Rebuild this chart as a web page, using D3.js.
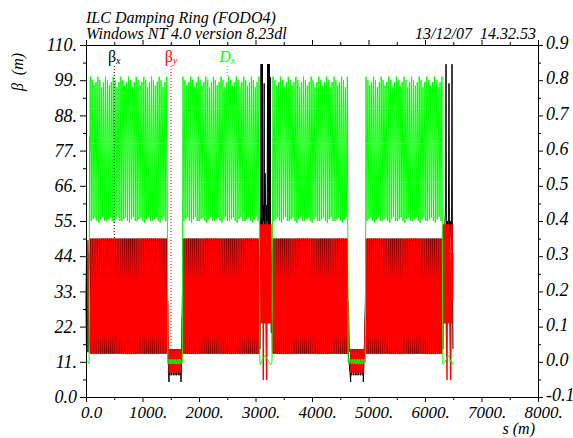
<!DOCTYPE html>
<html><head><meta charset="utf-8">
<script src="https://cdn.jsdelivr.net/npm/d3@7"></script>
<style>
body{margin:0;background:#fff}
svg{display:block}
text{font-family:"Liberation Serif","Times New Roman",serif;font-style:italic;fill:#000}
</style></head><body>
<svg id="c" width="573" height="438"></svg>
<script>
// ---------- tick labels ----------
const xTickValues = [0,1000,2000,3000,4000,5000,6000,7000,8000];
const xTickLabels = ["0.0","1000.","2000.","3000.","4000.","5000.","6000.","7000.","8000."];
const bTickValues = [0,11,22,33,44,55,66,77,88,99,110];
const bTickLabels = ["0.0","11.","22.","33.","44.","55.","66.","77.","88.","99.","110."];
const dTickValues = [-0.1,0,0.1,0.2,0.3,0.4,0.5,0.6,0.7,0.8,0.9];
const dTickLabels = ["-0.1","0.0","0.1","0.2","0.3","0.4","0.5","0.6","0.7","0.8","0.9"];

// ---------- arcs: repeated FODO cell ----------
const arcStart = [75, 1717, 3310, 4956];
const arcEnd   = [1430, 3062, 4625, 6300];
const arcCells = [40, 40, 39, 40];
const arcCellFrac  = [0, 0.125, 0.25, 0.375, 0.5, 0.625, 0.75, 0.875];
const arcCellBetaX = [49.5, 37, 27, 19, 13.5, 19, 27, 37];
const arcCellBetaY = [13.5, 19, 27, 37, 49.5, 37, 27, 19];
const arcCellDx    = [0.81, 0.72, 0.62, 0.51, 0.40, 0.51, 0.62, 0.72];
// cell-to-cell variation of the dispersion peaks / troughs seen along the arcs
const arcDxPeaks   = [0.81, 0.80, 0.785, 0.795, 0.81, 0.80, 0.78, 0.795];
const arcDxTroughs = [0.40, 0.405, 0.41, 0.40, 0.395, 0.405, 0.412, 0.40];

// ---------- straight sections: repeated cell ----------
const strStart = [1472, 4688];
const strEnd   = [1678, 4905];
const strCells = [7, 7];
const strCellFrac  = [0, 0.25, 0.5, 0.75];
const strCellBetaX = [15, 10, 6.8, 10];
const strCellBetaY = [7.5, 10.5, 15, 10.5];
const strCellDx    = [0.007, 0, -0.006, 0];

// ---------- explicit points (s, betaX, betaY, Dx) ----------
const entryS  = [0, 12, 35, 55, 62, 68];
const entryBx = [30, 49, 14, 45, 40, 45];
const entryBy = [30, 14, 49, 18, 20, 16];
const entryDx = [0, 0, 0, -0.005, 0.64, 0.60];

const m1S  = [1440, 1448, 1458, 1469];
const m1Bx = [25, 14, 10, 4.7];
const m1By = [14, 30, 14, 15];
const m1Dx = [0.40, 0, -0.005, 0];
const m2S  = [1681, 1695, 1705, 1712];
const m2Bx = [4.7, 14, 30, 40];
const m2By = [15, 12, 25, 15];
const m2Dx = [0, -0.005, 0, 0.5];

const m3S  = [4633, 4641, 4660, 4685];
const m3Bx = [25, 14, 10, 4.7];
const m3By = [14, 30, 14, 15];
const m3Dx = [0.40, 0, -0.005, 0];
const m4S  = [4908, 4925, 4945, 4951];
const m4Bx = [4.7, 14, 30, 40];
const m4By = [15, 12, 25, 15];
const m4Dx = [0, -0.005, 0, 0.5];

const inj1S  = [3070,3078,3090,3098,3104,3110,3116,3122,3130,3138,3146,3154,3162,3170,3178,3186,3198,3206,3214,3222,3230,3238,3246,3254,3262,3270,3280,3292,3300];
const inj1Bx = [25,15,40,104,40,104,45,104,50,60,55,98,50,70,60,50,60,55,104,45,104,40,104,40,100,30,20,30,45];
const inj1By = [20,45,54,23,54,23,54,30,54,5.3,54,23,54,23,54,23,5.3,54,23,54,23,54,23,54,23,54,40,25,15];
const inj1Dx = [0.30,-0.005,-0.008,-0.005,0,0.002,0.004,0.006,0.008,0.010,0.012,0.014,0.016,0.018,0.016,0.014,0.010,0.008,0.006,0.004,0.002,0,-0.003,-0.005,-0.007,-0.008,-0.005,0,0.40];

const inj2S  = [6308,6315,6322,6330,6338,6346,6354,6366,6372,6378,6390,6398,6406,6414,6425,6432,6440,6455,6463,6471,6478,6486,6495];
const inj2Bx = [25,15,30,40,45,50,55,60,104,55,50,55,50,55,98,55,50,55,50,55,104,40,15];
const inj2By = [20,45,54,23,54,23,54,23,54,23,5.3,54,23,54,23,54,23,5.3,54,23,54,30,45];
const inj2Dx = [0.30,-0.005,-0.008,-0.006,-0.004,-0.002,0,0.004,0.006,0.008,0.012,0.014,0.016,0.018,0.015,0.012,0.008,0.002,-0.002,-0.005,-0.008,-0.005,0];

// ---------- legend ----------
const legendS = [500, 1505, 2500];
const legendTarget = [49.5, 15.2, 0.81];

// ---------- build lattice ----------
function explicit(S, Bx, By, D){ return S.map((s,i)=>({s, bx:Bx[i], by:By[i], d:D[i]})); }
function periodic(start, end, n, F, Bx, By, D, peaks, troughs){
  const L = (end-start)/n, out=[];
  for (let i=0;i<n;i++) for (let j=0;j<F.length;j++){
    let d = D[j];
    if (peaks && j===0) d = peaks[i % peaks.length];
    if (troughs && j===F.length/2) d = troughs[i % troughs.length];
    out.push({s:start+(i+F[j])*L, bx:Bx[j], by:By[j], d});
  }
  out.push({s:end, bx:Bx[0], by:By[0], d:D[0]});
  return out;
}
const arc = k => periodic(arcStart[k], arcEnd[k], arcCells[k], arcCellFrac, arcCellBetaX, arcCellBetaY, arcCellDx, arcDxPeaks, arcDxTroughs);
const str = k => periodic(strStart[k], strEnd[k], strCells[k], strCellFrac, strCellBetaX, strCellBetaY, strCellDx);
const lattice = [].concat(
  explicit(entryS, entryBx, entryBy, entryDx), arc(0),
  explicit(m1S, m1Bx, m1By, m1Dx), str(0), explicit(m2S, m2Bx, m2By, m2Dx),
  arc(1), explicit(inj1S, inj1Bx, inj1By, inj1Dx), arc(2),
  explicit(m3S, m3Bx, m3By, m3Dx), str(1), explicit(m4S, m4Bx, m4By, m4Dx),
  arc(3), explicit(inj2S, inj2Bx, inj2By, inj2Dx)
);

// ---------- scales ----------
const svg = d3.select("#c");
const x  = d3.scaleLinear().domain([0,8000]).range([86,538]);
const yB = d3.scaleLinear().domain([0,110]).range([397,45]);
const yD = d3.scaleLinear().domain([-0.1,0.9]).range([397,45]);

// ---------- curves ----------
const g = svg.append("g");
g.append("path").datum(lattice).attr("fill","none").attr("stroke","#000").attr("stroke-width",1)
  .attr("d", d3.line().x(p=>x(p.s)).y(p=>yB(p.bx)));
g.append("path").datum(lattice).attr("fill","none").attr("stroke","#ff0000").attr("stroke-width",1.4)
  .attr("d", d3.line().x(p=>x(p.s)).y(p=>yB(p.by)));
g.append("path").datum(lattice).attr("fill","none").attr("stroke","#00ff00").attr("stroke-width",1)
  .attr("d", d3.line().x(p=>x(p.s)).y(p=>yD(p.d)));

// ---------- axes ----------
function styleAxis(sel, size){ sel.selectAll("path,line").attr("stroke","#000"); sel.selectAll("text").style("font-size",size||"18px").attr("fill","#000"); }
const xMinor = d3.range(500,8000,1000);
const bMinor = d3.range(5.5,110,11);
const dMinor = d3.range(-0.05,0.9,0.1);

svg.append("g").attr("transform","translate(0,397)")
  .call(d3.axisBottom(x).tickValues(xTickValues).tickSize(5).tickSizeOuter(0).tickPadding(4).tickFormat((d,i)=>xTickLabels[i]))
  .call(styleAxis, "17px").call(a=>a.selectAll("text").attr("dx",5));
svg.append("g").attr("transform","translate(0,397)")
  .call(d3.axisBottom(x).tickValues(xMinor).tickSize(3).tickSizeOuter(0).tickFormat("")).call(styleAxis);
svg.append("g").attr("transform","translate(0,45)")
  .call(d3.axisTop(x).tickValues(xTickValues).tickSize(5).tickSizeOuter(0).tickFormat("")).call(styleAxis);
svg.append("g").attr("transform","translate(0,45)")
  .call(d3.axisTop(x).tickValues(xMinor).tickSize(3).tickSizeOuter(0).tickFormat("")).call(styleAxis);
svg.append("g").attr("transform","translate(86,0)")
  .call(d3.axisLeft(yB).tickValues(bTickValues).tickSize(6).tickSizeOuter(0).tickPadding(3).tickFormat((d,i)=>bTickLabels[i])).call(styleAxis);
svg.append("g").attr("transform","translate(86,0)")
  .call(d3.axisLeft(yB).tickValues(bMinor).tickSize(3).tickSizeOuter(0).tickFormat("")).call(styleAxis);
svg.append("g").attr("transform","translate(538,0)")
  .call(d3.axisRight(yD).tickValues(dTickValues).tickSize(5).tickSizeOuter(0).tickPadding(3).tickFormat((d,i)=>dTickLabels[i]))
  .call(styleAxis).call(a=>a.selectAll("text").attr("dy","0.2em"));
svg.append("g").attr("transform","translate(538,0)")
  .call(d3.axisRight(yD).tickValues(dMinor).tickSize(3).tickSizeOuter(0).tickFormat("")).call(styleAxis);

// ---------- titles ----------
svg.append("text").attr("x",86).attr("y",23).style("font-size","16px").text("ILC Damping Ring (FODO4)");
svg.append("text").attr("x",86).attr("y",39).style("font-size","16px").text("Windows NT 4.0 version 8.23dl");
svg.append("text").attr("x",536).attr("y",39).attr("text-anchor","end").style("font-size","16px").style("white-space","pre").text("13/12/07  14.32.53");
svg.append("text").attr("transform","translate(23,72) rotate(-90)").attr("text-anchor","middle").style("font-size","16px").style("white-space","pre").text("β  (m)");
svg.append("text").attr("x",535).attr("y",434).attr("text-anchor","end").style("font-size","16px").text("s (m)");

// ---------- legend ----------
const legColors = ["#000","#ff0000","#00ff00"];
const legMain = ["β","β","D"];
const legScale = [yB, yB, yD];
legendS.forEach((s,i)=>{
  const t = svg.append("text").attr("x",x(s)).attr("y",62).attr("text-anchor","middle").style("font-size","16px");
  t.append("tspan").attr("fill",legColors[i]).style("font-style",i<2?"normal":"italic").text(legMain[i]);
  t.append("tspan").attr("fill",legColors[i]).attr("dy",2).style("font-size","10px").text(i===1?"y":"x");
  svg.append("line").attr("x1",x(s)).attr("x2",x(s)).attr("y1",66).attr("y2",legScale[i](legendTarget[i]))
    .attr("stroke",legColors[i]).attr("stroke-width",1).attr("stroke-dasharray","1,2");
});
</script>
</body></html>
